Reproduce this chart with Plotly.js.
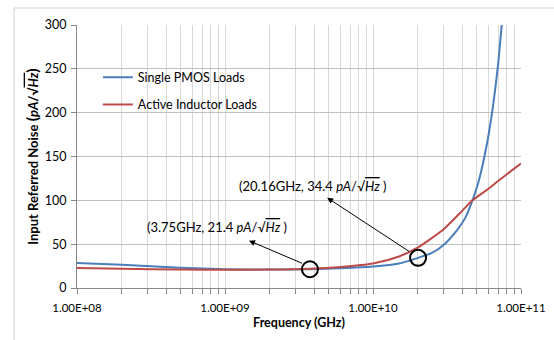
<!DOCTYPE html>
<html>
<head>
<meta charset="utf-8">
<script src="https://cdn.plot.ly/plotly-3.0.1.min.js"></script>
<style>html,body{margin:0;padding:0;background:#fff;}#chart{width:554px;height:340px;}</style>
</head>
<body>
<div id="chart"></div>
<script>
// Data
var freqBlue = [1e8, 2e8, 5e8, 1e9, 2e9, 3.75e9, 6e9, 1e10, 1.5e10, 2.016e10, 2.5e10, 3e10, 3.7e10, 4.2e10, 4.7e10, 5.1e10, 5.5e10, 6e10, 6.5e10, 7e10, 7.5e10];
var noiseBlue = [28.5, 26.5, 23, 21.5, 21, 21.4, 22.5, 24.5, 28, 34.4, 40, 49, 66, 80, 100, 118, 140, 172, 210, 255, 310];
var freqRed = [1e8, 2e8, 5e8, 1e9, 2e9, 3.75e9, 6e9, 1e10, 1.5e10, 2e10, 3e10, 4e10, 4.7e10, 6e10, 7e10, 8.5e10, 1e11];
var noiseRed = [22.8, 22, 21, 20.8, 21, 22, 24, 28, 36, 46, 67, 88, 100, 113, 122, 133, 142];
var markFreq = [3.75e9, 2.016e10];
var markNoise = [21.4, 34.4];
var xTickVals = [1e8, 1e9, 1e10, 1e11];
var xTickText = ["1.00E+08", "1.00E+09", "1.00E+10", "1.00E+11"];
var yTickVals = [0, 50, 100, 150, 200, 250, 300];
var seriesNames = ["Single PMOS Loads", "Active Inductor Loads"];

var SANS = "Lato, 'Open Sans', sans-serif";
var MATH = "'DejaVu Serif', 'Liberation Serif', serif";
var unit = "<span style='font-family:" + MATH + "'><i>pA</i>/√<span style='text-decoration:overline'><i>Hz</i></span></span>";

var traces = [
  {x: freqBlue, y: noiseBlue, type: 'scatter', mode: 'lines', name: seriesNames[0], legendgroup: 'a',
   line: {color: '#4a7ebb', width: 2, shape: 'spline', smoothing: 0.6}},
  {x: freqRed, y: noiseRed, type: 'scatter', mode: 'lines', name: seriesNames[1], legendgroup: 'b',
   line: {color: '#be4b48', width: 2, shape: 'spline', smoothing: 0.6}},
  {x: markFreq, y: markNoise, type: 'scatter', mode: 'markers', showlegend: false, hoverinfo: 'skip',
   marker: {symbol: 'circle-open', size: 16, color: '#000', line: {width: 2, color: '#000'}}}
];

var layout = {
  width: 554, height: 340,
  margin: {l: 77, r: 33, t: 25, b: 52},
  paper_bgcolor: '#fff', plot_bgcolor: '#fff',
  font: {family: SANS, size: 12, color: '#000'},
  showlegend: true,
  legend: {x: 0.047, y: 0.857, xanchor: 'left', yanchor: 'top', bgcolor: 'rgba(0,0,0,0)',
    font: {family: SANS, size: 12.5, color: '#000'}, tracegroupgap: 8},
  xaxis: {
    type: 'log', range: [8, 11], tickvals: xTickVals, ticktext: xTickText,
    showgrid: true, gridcolor: '#d9d9d9', gridwidth: 1,
    showline: true, linecolor: '#868686', linewidth: 1,
    ticks: 'outside', ticklen: 5, tickcolor: '#868686', ticklabelstandoff: 4,
    minor: {dtick: 'D1', showgrid: true, gridcolor: '#d9d9d9', gridwidth: 1, ticks: 'outside', ticklen: 5, tickcolor: '#868686'},
    tickfont: {family: SANS, size: 11.5, color: '#000'},
    zeroline: false,
    title: {text: '<b>Frequency (GHz)</b>', font: {family: SANS, size: 12.5, color: '#000'}, standoff: 5}
  },
  yaxis: {
    range: [0, 300], tickvals: yTickVals,
    showgrid: true, gridcolor: '#bfbfbf', gridwidth: 1,
    showline: true, linecolor: '#868686', linewidth: 1,
    ticks: 'outside', ticklen: 5, tickcolor: '#868686', ticklabelstandoff: 2,
    tickfont: {family: SANS, size: 12.5, color: '#000'},
    zeroline: false,
    title: {text: "<b>Input Referred Noise <span style='font-size:16px'>(</span><span style='font-family:" + MATH + "'><i>pA</i>/√<span style='text-decoration:overline'><i>Hz</i></span></span><span style='font-size:16px'>)</span></b>",
      font: {family: SANS, size: 13, color: '#000'}, standoff: 3}
  },
  shapes: [
    {type: 'rect', xref: 'paper', yref: 'paper', x0: -0.1419, x1: 1.3, y0: -0.3, y1: 1.0646,
     line: {color: '#d0d0d0', width: 1}, fillcolor: 'rgba(0,0,0,0)', layer: 'below'}
  ],
  annotations: [
    {xref: 'x', yref: 'y', x: 8.459, y: 69.6, xanchor: 'left', yanchor: 'middle', showarrow: false,
     text: '(3.75GHz, 21.4 ' + unit + ' )', font: {family: SANS, size: 13, color: '#000'}},
    {xref: 'x', yref: 'y', x: 9.081, y: 116.3, xanchor: 'left', yanchor: 'middle', showarrow: false,
     text: '(20.16GHz, 34.4 ' + unit + ' )', font: {family: SANS, size: 13, color: '#000'}},
    {xref: 'x', yref: 'y', x: 9.162, y: 54, axref: 'x', ayref: 'y', ax: 9.53, ay: 27.5, text: '',
     showarrow: true, arrowhead: 2, arrowsize: 1.2, arrowwidth: 1, arrowcolor: '#000'},
    {xref: 'x', yref: 'y', x: 9.690, y: 103, axref: 'x', ayref: 'y', ax: 10.255, ay: 40.5, text: '',
     showarrow: true, arrowhead: 2, arrowsize: 1.2, arrowwidth: 1, arrowcolor: '#000'}
  ]
};

Plotly.newPlot('chart', traces, layout, {displayModeBar: false, staticPlot: true});
</script>
</body>
</html>
